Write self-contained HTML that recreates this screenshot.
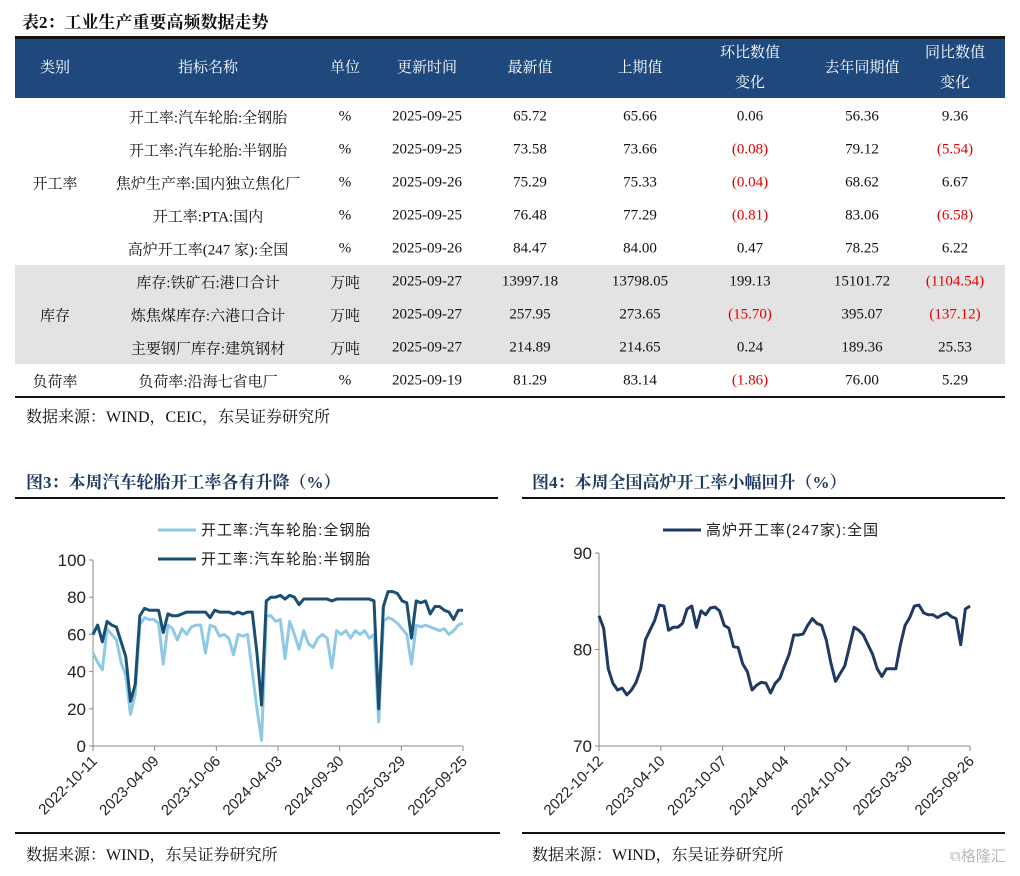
<!DOCTYPE html>
<html><head><meta charset="utf-8">
<style>
body{margin:0;width:1020px;height:876px;background:#fff;position:relative;overflow:hidden;font-family:"Liberation Serif","Noto Serif CJK SC",serif;}
.a{position:absolute;white-space:nowrap;}
.t{font-weight:bold;font-size:17px;color:#1f3b63;}
.cell{position:absolute;transform:translate(-50%,-50%);font-size:15px;color:#111;white-space:nowrap;}
.h{color:#fff;}
.red{color:#e00000;}
.src{font-size:16px;color:#111;}
</style></head><body>
<div class="a t" style="left:22px;top:8px;color:#111">表2：工业生产重要高频数据走势</div>
<div class="a" style="left:15px;top:36px;width:990px;height:3px;background:#111"></div>
<div class="a" style="left:15px;top:39px;width:990px;height:59px;background:#1f497d"></div>
<div class="a" style="left:15px;top:265px;width:990px;height:99px;background:#e3e3e3"></div>
<div class="a" style="left:15px;top:396px;width:990px;height:2px;background:#111"></div>
<div id="tbl"></div>
<div class="a src" style="left:26px;top:404px">数据来源：WIND，CEIC，东吴证券研究所</div>

<div class="a t" style="left:26px;top:468px">图3：本周汽车轮胎开工率各有升降（%）</div>
<div class="a" style="left:15px;top:497px;width:483px;height:2px;background:#111"></div>
<div class="a t" style="left:532px;top:468px">图4：本周全国高炉开工率小幅回升（%）</div>
<div class="a" style="left:522px;top:497px;width:483px;height:2px;background:#111"></div>
<div class="a" style="left:15px;top:832px;width:485px;height:2px;background:#111"></div>
<div class="a" style="left:522px;top:832px;width:483px;height:2px;background:#111"></div>
<div class="a src" style="left:26px;top:842px">数据来源：WIND，东吴证券研究所</div>
<div class="a src" style="left:532px;top:842px">数据来源：WIND，东吴证券研究所</div>
<div class="a" style="left:950px;top:845px;font-size:15px;color:#bbb;font-family:'Liberation Sans','Noto Sans CJK SC',sans-serif">⧉格隆汇</div>

<svg id="c3" class="a" style="left:0;top:500px" width="510" height="335"></svg>
<svg id="c4" class="a" style="left:510px;top:500px" width="510" height="335"></svg>

<script>
const headers=["类别","指标名称","单位","更新时间","最新值","上期值","环比数值|变化","去年同期值","同比数值|变化"];
const rows=[
["","开工率:汽车轮胎:全钢胎","%","2025-09-25","65.72","65.66","0.06","56.36","9.36"],
["","开工率:汽车轮胎:半钢胎","%","2025-09-25","73.58","73.66","(0.08)","79.12","(5.54)"],
["开工率","焦炉生产率:国内独立焦化厂","%","2025-09-26","75.29","75.33","(0.04)","68.62","6.67"],
["","开工率:PTA:国内","%","2025-09-25","76.48","77.29","(0.81)","83.06","(6.58)"],
["","高炉开工率(247 家):全国","%","2025-09-26","84.47","84.00","0.47","78.25","6.22"],
["","库存:铁矿石:港口合计","万吨","2025-09-27","13997.18","13798.05","199.13","15101.72","(1104.54)"],
["库存","炼焦煤库存:六港口合计","万吨","2025-09-27","257.95","273.65","(15.70)","395.07","(137.12)"],
["","主要钢厂库存:建筑钢材","万吨","2025-09-27","214.89","214.65","0.24","189.36","25.53"],
["负荷率","负荷率:沿海七省电厂","%","2025-09-19","81.29","83.14","(1.86)","76.00","5.29"]];
const colX=[55,208,345,427,530,640,750,862,955];
const tbl=document.getElementById('tbl');
headers.forEach((h,i)=>{const d=document.createElement('div');d.className='cell h';d.style.left=colX[i]+'px';d.style.top='68px';d.style.textAlign='center';d.style.lineHeight='30px';d.innerHTML=h.replace('|','<br>');


tbl.appendChild(d);});
rows.forEach((r,ri)=>{r.forEach((v,ci)=>{if(!v)return;const d=document.createElement('div');d.className='cell'+(v[0]=='('?' red':'');d.style.left=colX[ci]+'px';d.style.top=(117+ri*33)+'px';d.textContent=v;


tbl.appendChild(d);});});

const NS='http://www.w3.org/2000/svg';
function el(p,t,a){const e=document.createElementNS(NS,t);for(const k in a)e.setAttribute(k,a[k]);p.appendChild(e);return e;}

const dates3=["2022-10-11","2023-04-09","2023-10-06","2024-04-03","2024-09-30","2025-03-29","2025-09-25"];
const ticks3=[0,20,40,60,80,100];
const allSteel=[50,45,41,63,60,57,45,38,17,28,65,69,68,68,66,44,65,63,57,63,60,64,65,65,50,65,64,59,60,58,49,60,59,60,40,20,3,70,70,67,68,47,67,60,52,62,55,53,58,60,58,42,62,60,62,58,62,60,62,58,60,13,67,69,68,66,63,60,44,65,64,65,64,63,62,63,60,62,65,66];
const semiSteel=[60,65,56,67,65,64,56,48,24,33,70,74,73,73,73,61,71,70,70,71,72,72,72,72,72,69,73,72,72,72,71,72,71,72,72,50,22,78,80,80,81,79,81,80,76,79,79,79,79,79,79,78,79,79,79,79,79,79,79,79,78,20,75,83,83,82,78,77,58,78,77,78,71,75,75,73,72,68,73,73];
const dates4=["2022-10-12","2023-04-10","2023-10-07","2024-04-04","2024-10-01","2025-03-30","2025-09-26"];
const ticks4=[70,80,90];
const blastFurnace=[83.5,82.2,78,76.5,75.8,76,75.3,75.8,76.6,78,81,82,83,84.6,84.5,82,82.3,82.3,82.7,84.2,84.5,82.3,84,83.6,84.3,84.4,84,82.5,82.2,80.3,80.2,78.5,77.7,75.8,76.3,76.6,76.5,75.5,76.5,77,78.3,79.5,81.5,81.5,81.6,82.5,83.2,82.7,82.5,81,78.6,76.7,77.5,78.3,80.3,82.3,82,81.5,80.5,79.5,78,77.2,78,78,78,80.5,82.5,83.3,84.5,84.6,83.8,83.6,83.6,83.3,83.6,83.8,83.4,83.2,80.5,84.2,84.5];

function chart(svg,o){
 const x=i=>o.x0+(o.x1-o.x0)*i/(o.n-1);
 const y=v=>o.y0-(o.y0-o.y1)*(v-o.vmin)/(o.vmax-o.vmin);
 const ax=el(svg,'line',{x1:o.x0,y1:o.y1,x2:o.x0,y2:o.y0,stroke:'#888','stroke-width':1});
 
 const bx=el(svg,'line',{x1:o.x0,y1:o.y0,x2:o.x1,y2:o.y0,stroke:'#888','stroke-width':1});
 
 o.ticks.forEach(t=>{el(svg,'line',{x1:o.x0-4,x2:o.x0,y1:y(t),y2:y(t),stroke:'#888'});
  const tx=el(svg,'text',{x:o.x0-7,y:y(t)+6,'text-anchor':'end','font-size':17,'font-family':'Liberation Sans, sans-serif',fill:'#222'});tx.textContent=t;
  });
 o.dates.forEach((d,i)=>{const px=o.x0+(o.x1-o.x0)*i/(o.dates.length-1);
  el(svg,'line',{x1:px,x2:px,y1:o.y0,y2:o.y0+5,stroke:'#888'});
  const tx=el(svg,'text',{x:px+5,y:o.y0+16,'text-anchor':'end','font-size':15,'font-family':'Liberation Sans, sans-serif',fill:'#222',transform:`rotate(-45 ${px+5} ${o.y0+16})`});tx.textContent=d;
  });
 o.series.forEach(s=>{const p=el(svg,'polyline',{points:s.d.map((v,i)=>x(i)+','+y(v)).join(' '),fill:'none',stroke:s.c,'stroke-width':3,'stroke-linejoin':'round'});
  });
}
chart(document.getElementById('c3'),{x0:93,x1:463,y0:246,y1:60,vmin:0,vmax:100,n:allSteel.length,ticks:ticks3,dates:dates3,
 series:[{d:allSteel,c:'#8ecae6',name:'line-all-steel'},{d:semiSteel,c:'#1b4f72',name:'line-semi-steel'}]});
chart(document.getElementById('c4'),{x0:89,x1:460,y0:246,y1:53,vmin:70,vmax:90,n:blastFurnace.length,ticks:ticks4,dates:dates4,
 series:[{d:blastFurnace,c:'#203864',name:'line-blast-furnace'}]});
const s3=document.getElementById('c3'),s4=document.getElementById('c4');
function leg(svg,x,y,c,txt,name){const l=el(svg,'line',{x1:x,x2:x+38,y1:y,y2:y,stroke:c,'stroke-width':3});
 
 const t=el(svg,'text',{x:x+43,y:y+5,'font-size':15,'letter-spacing':'1','font-family':'Liberation Sans, Noto Sans CJK SC, sans-serif',fill:'#222'});t.textContent=txt;
 }
leg(s3,158,30,'#8ecae6','开工率:汽车轮胎:全钢胎','legend-all-steel');
leg(s3,158,59,'#1b4f72','开工率:汽车轮胎:半钢胎','legend-semi-steel');
leg(s4,153,30,'#203864','高炉开工率(247家):全国','legend-blast-furnace');
</script>
</body></html>
